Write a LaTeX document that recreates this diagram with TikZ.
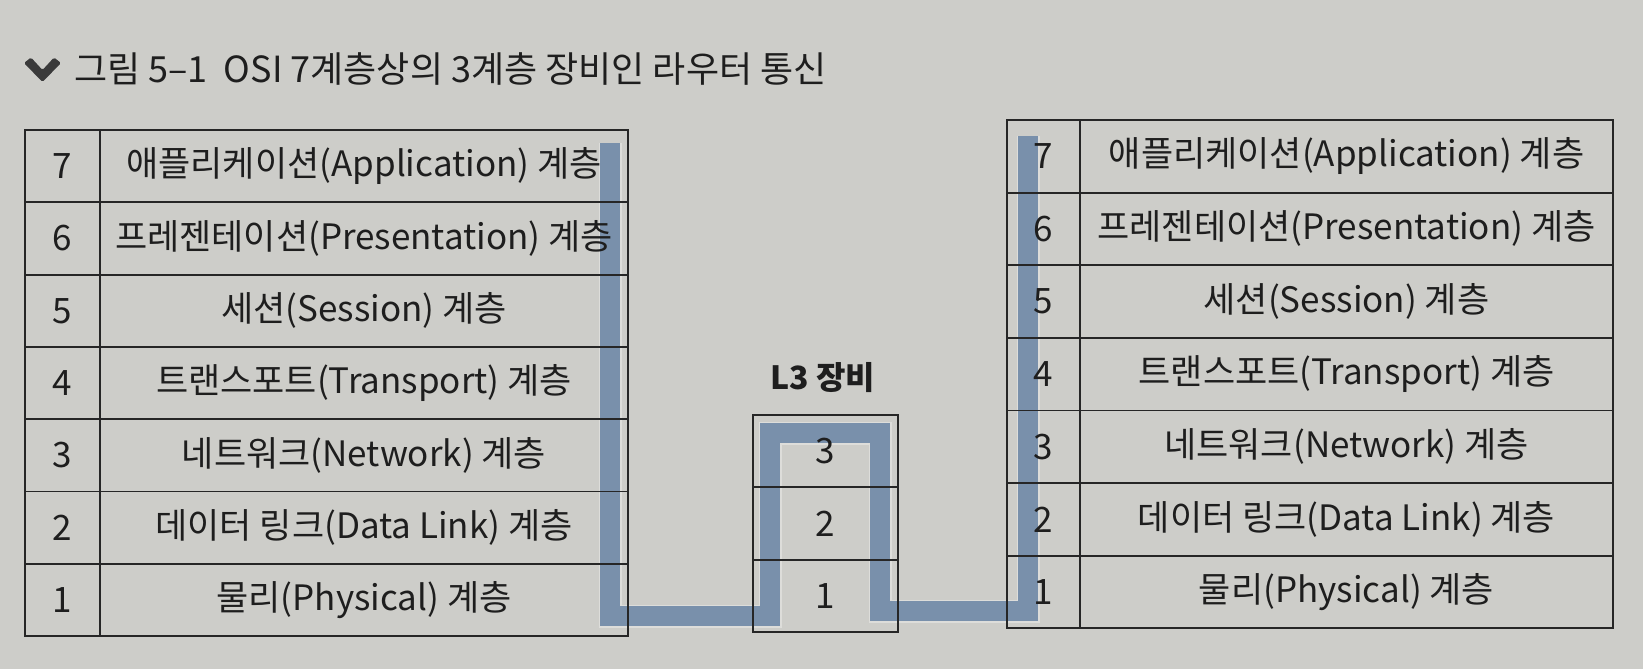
\documentclass[tikz,border=0pt]{standalone}
\usepackage{fontspec}
\setmainfont{Noto Sans CJK KR}
\definecolor{bgc}{HTML}{CDCDC9}
\definecolor{barc}{HTML}{7990AB}
\definecolor{haloc}{HTML}{DDDDDA}
\definecolor{linec}{HTML}{262626}
\definecolor{txtc}{HTML}{1E1E1E}
\definecolor{iconc}{HTML}{3A3A3A}
\begin{document}
\begin{tikzpicture}[x=1pt,y=-1pt,
  cell/.style={draw=linec, line width=1.8pt, inner sep=0pt, text=txtc,
    font=\fontsize{35}{40}\selectfont},
  halo/.style={draw=haloc, line width=23pt, line join=miter},
  bar/.style={draw=barc, line width=20pt, line join=miter},
  ttl/.style={text=txtc, inner sep=0pt}]
\fill[bgc] (0,0) rectangle (1643,669);
\useasboundingbox (0,0) rectangle (1643,669);

% title
\fill[iconc, rounded corners=1.5pt] (24,63) -- (31,57.5) -- (42.5,70) -- (54,57.5) -- (61,63) -- (42.5,82) -- cycle;
\node[ttl, anchor=west, font=\fontsize{36}{42}\selectfont] (title) at (74,69)
  {그림 5–1\ \ OSI 7계층상의 3계층 장비인 라우터 통신};

% path of the data
\coordinate (p1) at (610,143);
\coordinate (p2) at (610,616);
\coordinate (p3) at (770,616);
\coordinate (p4) at (770,433);
\coordinate (p5) at (880,433);
\coordinate (p6) at (880,611);
\coordinate (p7) at (1028,611);
\coordinate (p8) at (1028,136);
\draw[halo] (p1) -- (p2) -- (p3) -- (p4) -- (p5) -- (p6) -- (p7) -- (p8);
\draw[bar] (p1) -- (p2) -- (p3) -- (p4) -- (p5) -- (p6) -- (p7) -- (p8);

% left table
\foreach \n/\y in {7/166.15,6/238.45,5/310.75,4/383.05,3/455.35,2/527.65,1/599.95}{
  \node[cell, minimum width=75pt, minimum height=72.3pt] (ln\n) at (62.5,\y) {\n};
}
\node[cell, minimum width=528pt, minimum height=72.3pt] (lt7) at (364,166.15) {애플리케이션(Application) 계층};
\node[cell, minimum width=528pt, minimum height=72.3pt] (lt6) at (364,238.45) {프레젠테이션(Presentation) 계층};
\node[cell, minimum width=528pt, minimum height=72.3pt] (lt5) at (364,310.75) {세션(Session) 계층};
\node[cell, minimum width=528pt, minimum height=72.3pt] (lt4) at (364,383.05) {트랜스포트(Transport) 계층};
\node[cell, minimum width=528pt, minimum height=72.3pt] (lt3) at (364,455.35) {네트워크(Network) 계층};
\node[cell, minimum width=528pt, minimum height=72.3pt] (lt2) at (364,527.65) {데이터 링크(Data Link) 계층};
\node[cell, minimum width=528pt, minimum height=72.3pt] (lt1) at (364,599.95) {물리(Physical) 계층};

% L3 device
\node[ttl, font=\bfseries\fontsize{32}{38}\selectfont] (l3t) at (823,378) {L3 장비};
\foreach \n/\y in {3/451.15,2/523.45,1/595.75}{
  \node[cell, minimum width=145pt, minimum height=72.3pt] (mn\n) at (825.5,\y) {\n};
}

% right table
\foreach \n/\y in {7/156.3,6/228.9,5/301.5,4/374.1,3/446.7,2/519.3,1/591.9}{
  \node[cell, minimum width=73pt, minimum height=72.6pt] (rn\n) at (1043.5,\y) {\n};
}
\node[cell, minimum width=533pt, minimum height=72.6pt] (rt7) at (1346.5,156.3) {애플리케이션(Application) 계층};
\node[cell, minimum width=533pt, minimum height=72.6pt] (rt6) at (1346.5,228.9) {프레젠테이션(Presentation) 계층};
\node[cell, minimum width=533pt, minimum height=72.6pt] (rt5) at (1346.5,301.5) {세션(Session) 계층};
\node[cell, minimum width=533pt, minimum height=72.6pt] (rt4) at (1346.5,374.1) {트랜스포트(Transport) 계층};
\node[cell, minimum width=533pt, minimum height=72.6pt] (rt3) at (1346.5,446.7) {네트워크(Network) 계층};
\node[cell, minimum width=533pt, minimum height=72.6pt] (rt2) at (1346.5,519.3) {데이터 링크(Data Link) 계층};
\node[cell, minimum width=533pt, minimum height=72.6pt] (rt1) at (1346.5,591.9) {물리(Physical) 계층};
\end{tikzpicture}
\end{document}
